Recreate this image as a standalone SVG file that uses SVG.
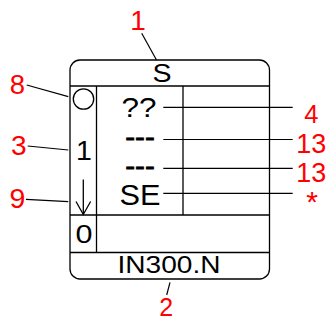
<svg xmlns="http://www.w3.org/2000/svg" width="329" height="321" viewBox="0 0 329 321">
<style>
.ln{stroke:#000;stroke-width:1.3;fill:none}
.lead{stroke:#000;stroke-width:1.2;fill:none}
.t{font-family:"Liberation Sans",Arial,sans-serif;fill:#000;text-anchor:middle}
.r{font-family:"Liberation Sans",Arial,sans-serif;fill:#ff0000;text-anchor:middle}
.d{stroke:#000;stroke-width:0.8}
</style>
<rect width="329" height="321" fill="#fff"/>
<g id="block">
<rect class="ln" x="70" y="60" width="199.5" height="219" rx="10" ry="10"/>
<line class="ln" x1="70" y1="86" x2="269.5" y2="86"/>
<line class="ln" x1="70" y1="215" x2="269.5" y2="215"/>
<line class="ln" x1="70" y1="252.5" x2="269.5" y2="252.5"/>
<line class="ln" x1="96.5" y1="86" x2="96.5" y2="252.5"/>
<line class="ln" x1="183" y1="86" x2="183" y2="215"/>
<circle class="ln" cx="83.5" cy="99" r="10.2"/>
<line class="ln" x1="83.3" y1="179.5" x2="83.3" y2="214.5"/>
<polyline class="ln" points="76,201.5 83.3,214.5 90.6,201.5"/>
<text class="t" x="162" y="82" font-size="26" textLength="19" lengthAdjust="spacingAndGlyphs">S</text>
<text class="t" x="139" y="116.5" font-size="28.5" textLength="35" lengthAdjust="spacingAndGlyphs">??</text>
<text class="t d" x="140" y="146" font-size="28" textLength="29.5" lengthAdjust="spacingAndGlyphs">---</text>
<text class="t d" x="140" y="175" font-size="28" textLength="29.5" lengthAdjust="spacingAndGlyphs">---</text>
<text class="t" x="140" y="205" font-size="29" textLength="41" lengthAdjust="spacingAndGlyphs">SE</text>
<text class="t" x="84" y="160" font-size="28.5">1</text>
<text class="t" x="84" y="243.3" font-size="25.5" textLength="17" lengthAdjust="spacingAndGlyphs">0</text>
<text class="t" x="169" y="273.3" font-size="24.5" textLength="103" lengthAdjust="spacingAndGlyphs">IN300.N</text>
</g>
<g id="connectors">
<line class="lead" x1="141.7" y1="33.3" x2="156.5" y2="60"/>
<line class="lead" x1="26.7" y1="85" x2="68.3" y2="96.7"/>
<line class="lead" x1="27.7" y1="146" x2="68.3" y2="150"/>
<line class="lead" x1="26" y1="199.3" x2="68.3" y2="201.7"/>
<line class="lead" x1="163.3" y1="107.3" x2="292.7" y2="107.3"/>
<line class="lead" x1="163.3" y1="139.5" x2="292.7" y2="139.5"/>
<line class="lead" x1="163.3" y1="168.3" x2="292.7" y2="168.3"/>
<line class="lead" x1="163.3" y1="193.3" x2="292.7" y2="193.3"/>
<line class="lead" x1="170" y1="282.3" x2="166.7" y2="295"/>
</g>
<g id="labels">
<text class="r" x="138" y="30" font-size="28">1</text>
<text class="r" x="17.5" y="94" font-size="27.5">8</text>
<text class="r" x="18.8" y="155" font-size="28">3</text>
<text class="r" x="17.5" y="208.3" font-size="28.5">9</text>
<text class="r" x="311.3" y="123.3" font-size="25.5">4</text>
<text class="r" x="311.2" y="153.3" font-size="28" textLength="30" lengthAdjust="spacingAndGlyphs">13</text>
<text class="r" x="311.2" y="181.7" font-size="28" textLength="30" lengthAdjust="spacingAndGlyphs">13</text>
<text class="r" x="312" y="212" font-size="30">*</text>
<text class="r" x="166.3" y="316" font-size="25">2</text>
</g>
</svg>
